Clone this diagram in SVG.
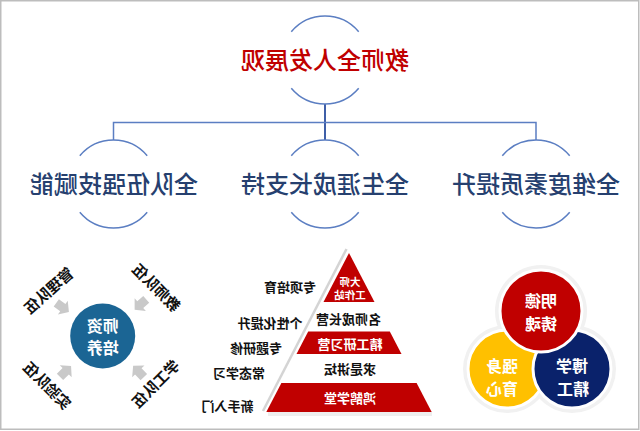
<svg xmlns="http://www.w3.org/2000/svg" width="640" height="431" viewBox="0 0 640 431">
<style>
text{font-family:"Noto Sans CJK SC","Noto Sans",sans-serif;font-weight:700;text-anchor:middle;dominant-baseline:central}
.title{font-size:24px;fill:#c00000;font-weight:500}
.sub{font-size:24px;fill:#26406f;font-weight:500}
.arc{fill:none;stroke:#5b7ec2;stroke-width:1.5}
.conn{fill:none;stroke:#5b7ec2;stroke-width:1.5}
.lbl{font-size:15px;fill:#111}
.pl{font-size:13px;fill:#111}
.pw{font-size:13px;fill:#fff}
.red{fill:#c00000}
.arr{fill:#c9c9c9}
.cl{font-size:16px;fill:#fff}
</style>
<defs>
<polygon id="arrow" points="-7,-4.5 1,-4.5 1,-8.5 8.5,0 1,8.5 1,4.5 -7,4.5"/>
</defs>
<rect x="0.75" y="0.75" width="638" height="428.5" fill="#fff" stroke="#bdbdbd" stroke-width="1.5"/>

<g id="connectors">
<path class="conn" d="M325,104V140" style="stroke:#3f5fa8;stroke-width:2"/>
<path class="conn" d="M113.5,140V122.5H536V140"/>
</g>

<g id="root">
<path class="arc" d="M291.3,31.7A44,44 0 0 1 358.7,31.7M291.3,88.3A44,44 0 0 0 358.7,88.3"/>
<text class="title" transform="translate(325,58) scale(-1,1)">教师全人发展观</text>
</g>

<g id="child-left">
<path class="arc" d="M79.8,155.7A44,44 0 0 1 147.2,155.7M79.8,212.3A44,44 0 0 0 147.2,212.3"/>
<text class="sub" transform="translate(114,182) scale(-1,1)">全队伍强技赋能</text>
</g>
<g id="child-mid">
<path class="arc" d="M291.3,155.7A44,44 0 0 1 358.7,155.7M291.3,212.3A44,44 0 0 0 358.7,212.3"/>
<text class="sub" transform="translate(325,182) scale(-1,1)">全生涯成长支持</text>
</g>
<g id="child-right">
<path class="arc" d="M502.3,155.7A44,44 0 0 1 569.7,155.7M502.3,212.3A44,44 0 0 0 569.7,212.3"/>
<text class="sub" transform="translate(536,182) scale(-1,1)">全维度素质提升</text>
</g>

<g id="teacher-training">
<use href="#arrow" class="arr" transform="translate(62,307) rotate(35.5)"/>
<use href="#arrow" class="arr" transform="translate(141,304) rotate(138.5)"/>
<use href="#arrow" class="arr" transform="translate(65,372) rotate(-44.5)"/>
<use href="#arrow" class="arr" transform="translate(139,372) rotate(-133.7)"/>
<circle cx="102.7" cy="336" r="32.5" fill="#1b6594"/>
<text class="cl" transform="translate(102.7,325) scale(-1,1)">师资</text>
<text class="cl" transform="translate(102.7,347) scale(-1,1)">培养</text>
<text class="lbl" transform="translate(48,290) rotate(-42) scale(-1,1)">管理队伍</text>
<text class="lbl" transform="translate(157,287) rotate(45) scale(-1,1)">教师队伍</text>
<text class="lbl" transform="translate(48,385) rotate(45) scale(-1,1)">实验队伍</text>
<text class="lbl" transform="translate(155,383) rotate(-45) scale(-1,1)">学工队伍</text>
</g>

<g id="pyramid">
<rect x="268" y="412" width="164" height="4" fill="#eeeeee"/>
<line x1="346.5" y1="249" x2="263" y2="411" stroke="#d4d4d4" stroke-width="2.5"/>
<polygon class="red" points="349,253 374.5,302 323.5,302"/>
<polygon class="red" points="308.2,331.5 389.8,331.5 401.5,354 296.5,354"/>
<polygon class="red" points="281.4,383 416.6,383 431.7,412 266.3,412"/>
<text class="pw" style="font-size:10.5px" transform="translate(350,281) scale(-1,1)">大师</text>
<text class="pw" style="font-size:10.5px" transform="translate(350,294.5) scale(-1,1)">工作站</text>
<text class="pl" transform="translate(348.5,318.5) scale(-1,1)">名师成长营</text>
<text class="pw" transform="translate(350,343) scale(-1,1)">精工研习营</text>
<text class="pl" transform="translate(350,368.5) scale(-1,1)">求是讲坛</text>
<text class="pw" transform="translate(350,397) scale(-1,1)">鸿鹄学堂</text>
<text class="pl" transform="translate(290,286) scale(-1,1)">专项培育</text>
<text class="pl" transform="translate(270,322) scale(-1,1)">个性化提升</text>
<text class="pl" transform="translate(256,347) scale(-1,1)">专题研修</text>
<text class="pl" transform="translate(239,372) scale(-1,1)">常态学习</text>
<text class="pl" transform="translate(227.5,405) scale(-1,1)">新手入门</text>
</g>

<g id="three-circles">
<circle cx="507" cy="369" r="44" fill="#f1f1f1"/>
<circle cx="572" cy="369" r="44" fill="#f1f1f1"/>
<circle cx="541" cy="311" r="46" fill="#f1f1f1"/>
<circle cx="507" cy="369" r="39" fill="#ffc000" stroke="#fff" stroke-width="3"/>
<circle cx="572" cy="369" r="39" fill="#0a226b" stroke="#fff" stroke-width="3"/>
<circle cx="541" cy="311" r="41" fill="#c00000" stroke="#fff" stroke-width="3"/>
<text class="cl" transform="translate(541,300) scale(-1,1)">明德</text>
<text class="cl" transform="translate(541,323) scale(-1,1)">铸魂</text>
<text class="cl" transform="translate(502,365) scale(-1,1)">强身</text>
<text class="cl" transform="translate(502,388) scale(-1,1)">育心</text>
<text class="cl" transform="translate(572,365) scale(-1,1)">博学</text>
<text class="cl" transform="translate(573,388) scale(-1,1)">精工</text>
</g>
</svg>
